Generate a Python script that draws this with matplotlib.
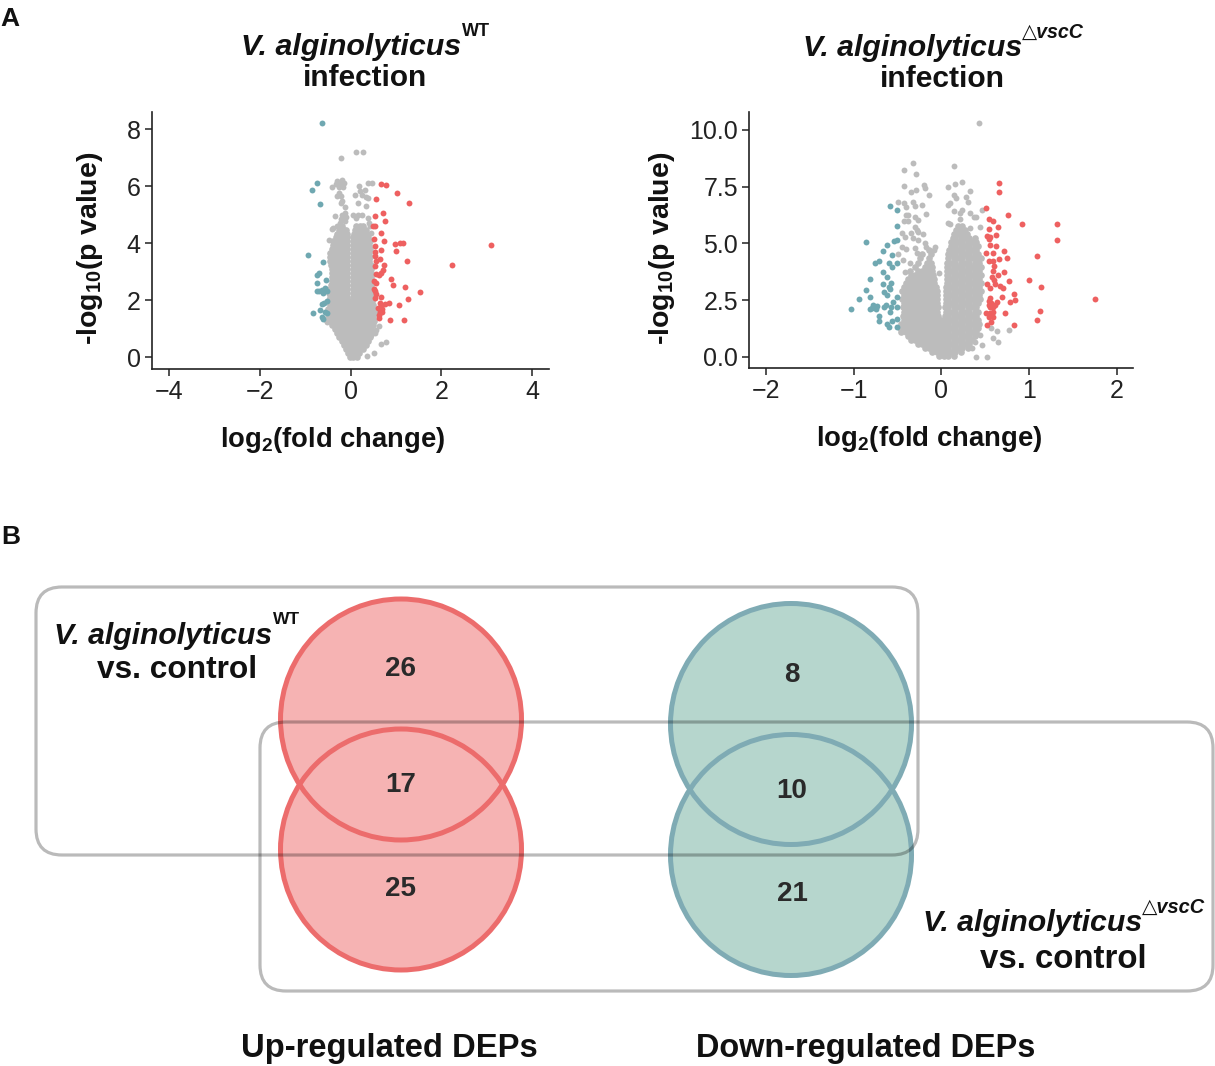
import matplotlib
matplotlib.use("Agg")
import matplotlib.pyplot as plt
from matplotlib.patches import Circle, FancyBboxPatch

plt.rcParams['font.family'] = ['Liberation Sans', 'DejaVu Sans']
plt.rcParams['mathtext.fontset'] = 'custom'
plt.rcParams['mathtext.rm'] = 'Liberation Sans'
plt.rcParams['mathtext.bf'] = 'Liberation Sans:bold'
plt.rcParams['axes.unicode_minus'] = True

W, H = 1215, 1066
GREY, TEAL, RED = '#bcbcbc', '#6fa8b1', '#ee6060'
INK = '#222222'

# --- panel A left ---
teal_a_x = [-.64,-.74,-.86,-.67,-.94,-.6,-.70,-.74,-.55,-.74,-.75,-.7,-.63,-.57,-.6,-.53,-.53,-.59,-.63,-.67,-.83,-.56,-.52,-.64,-.6]
teal_a_y = [8.22,6.11,5.85,5.37,3.59,3.34,2.95,2.89,2.72,2.6,2.33,2.32,2.37,2.42,2.27,2.31,1.98,1.92,1.87,1.67,1.55,1.59,1.55,1.43,1.35]
red_a_x = [.68,.77,1.03,.56,1.29,.71,.53,.75,.5,.54,.66,.52,.73,.98,1.1,1.15,.54,3.1,.67,.99,.54,.54,.65,.55,1.25,.74,.54,2.24,.71,.67,.55,.63,.88,.52,.56,.94,1.2,.51,.54,1.53,.56,.68,.54,1.26,.65,.76,.85,1.07,.68,.61,.69,.65,.7,.63,.63,.86,1.17]
red_a_y = [6.09,6.03,5.77,5.55,5.42,5.07,4.94,4.79,4.61,4.6,4.36,4.15,4.07,3.97,4.0,4.02,3.91,3.92,3.75,3.71,3.68,3.54,3.44,3.36,3.37,3.24,3.21,3.23,3.07,2.95,2.93,2.87,2.75,2.66,2.6,2.52,2.46,2.39,2.31,2.3,2.21,2.11,2.07,2.05,1.92,1.87,1.89,1.83,1.8,1.72,1.69,1.59,1.59,1.49,1.37,1.32,1.31]
grey_a_x = [.11,.27,-.22,.39,.48,-.31,-.18,-.14,-.32,-.4,-.22,-.26,-.16,.19,.21,.32,.1,.24,.33,.39,-.26,-.22,-.29,-.18,-.21,.17,.35,-.13,-.13,-.18,-.34,-.1,-.21,-.13,-.24,-.31,-.38,-.42,-.48,.06,.17,.26,.12,.38,.4,.43,.44,.63,.57,.54,.46,.66,.77,.52,.36,-.54,-.52]
grey_a_y = [7.2,7.21,6.97,6.12,6.12,6.19,6.22,6.11,6.09,5.97,6.09,5.97,5.97,6.0,5.82,5.88,5.7,5.7,5.62,5.58,5.76,5.64,5.64,5.47,5.41,5.4,5.32,5.26,5.06,5.0,4.94,4.92,4.85,4.77,4.7,4.61,4.53,4.5,4.12,5.0,5.0,4.98,4.88,4.88,4.7,4.59,4.36,1.08,.96,.84,.78,.47,.52,.16,.04,1.31,1.22]
# body of the cloud, row by row
body_a_y = [.02,.14,.28,.42,.56,.7,.84,.98,1.12,1.26,1.4,1.54,1.68,1.82,1.96,2.1,2.24,2.38,2.52,2.66,2.8,2.94,3.08,3.22,3.36,3.5,3.64,3.78,3.92,4.06,4.2,4.34,4.48,4.62]
body_a_x = [
    [-.02,.06,.13],
    [-.05,.03,.1,.18],
    [-.1,0,.1,.2,.28],
    [-.15,-.05,.05,.15,.25,.33],
    [-.2,-.1,0,.1,.2,.3,.38],
    [-.25,-.15,-.05,.05,.15,.25,.35,.42],
    [-.3,-.2,-.1,0,.1,.2,.3,.4,.45],
    [-.35,-.25,-.15,-.05,.05,.15,.25,.35,.45],
    [-.4,-.3,-.2,-.1,0,.1,.2,.3,.4,.5],
    [-.45,-.35,-.25,-.15,-.05,.05,.15,.25,.35,.45,.52],
    [-.5,-.4,-.3,-.2,-.1,0,.1,.2,.3,.4,.5],
    [-.45,-.35,-.25,-.15,-.05,.05,.15,.25,.35,.45,.53],
    [-.5,-.4,-.3,-.2,-.1,0,.1,.2,.3,.4,.5],
    [-.45,-.35,-.25,-.15,-.05,.05,.15,.25,.35,.45,.5],
    [-.5,-.4,-.3,-.2,-.1,0,.1,.2,.3,.4,.48],
    [-.45,-.35,-.25,-.15,-.08,.06,.15,.25,.35,.45],
    [-.48,-.4,-.3,-.2,-.13,-.08,.06,.12,.2,.3,.4,.47],
    [-.45,-.35,-.25,-.15,-.08,.06,.15,.25,.35,.45],
    [-.44,-.4,-.3,-.2,-.13,-.08,.06,.12,.2,.3,.4,.46],
    [-.42,-.35,-.25,-.15,-.08,.06,.15,.25,.35,.45],
    [-.4,-.3,-.2,-.13,-.08,.06,.12,.2,.3,.4,.46],
    [-.41,-.35,-.25,-.15,-.08,.06,.15,.25,.35,.45],
    [-.4,-.3,-.2,-.13,-.08,.06,.12,.2,.3,.4,.46],
    [-.43,-.35,-.25,-.15,-.08,.06,.15,.25,.35,.44],
    [-.45,-.4,-.3,-.2,-.13,-.08,.06,.12,.2,.3,.4],
    [-.46,-.4,-.3,-.2,-.13,-.08,.06,.15,.25,.35,.43],
    [-.45,-.35,-.25,-.15,-.08,.06,.12,.2,.3,.4],
    [-.4,-.3,-.2,-.13,-.08,.06,.15,.25,.35,.42],
    [-.38,-.35,-.25,-.15,-.08,.06,.12,.2,.3,.4],
    [-.38,-.3,-.2,-.13,-.08,.06,.15,.25,.35,.42],
    [-.33,-.25,-.15,-.08,.06,.12,.2,.3,.39],
    [-.29,-.2,-.13,-.08,.07,.15,.25,.35],
    [-.25,-.15,-.1,.09,.15,.25,.33],
    [-.2,.12,.2,.28],
]

# --- panel A right ---
teal_b_x = [-.58,-.51,-.51,-.86,-.51,-.54,-.62,-.67,-.56,-.71,-.76,-.6,-.51,-.56,-.67,-.62,-.81,-.57,-.67,-.6,-.58,-.86,-.65,-.62,-.81,-.51,-.94,-.55,-.78,-.73,-.63,-.65,-.51,-.57,-.79,-.81,-.74,-1.03,-.59,-.71,-.71,-.51,-.56,-.62,-.6,-.51]
teal_b_y = [6.67,6.46,5.79,5.07,5.15,5.11,4.93,4.68,4.49,4.23,4.16,4.13,4.16,3.98,3.74,3.54,3.44,3.27,3.2,3.1,2.98,2.97,2.88,2.73,2.66,2.63,2.54,2.41,2.29,2.25,2.29,2.19,2.19,2.19,2.14,2.1,2.1,2.1,2.0,1.81,1.6,1.66,1.6,1.45,1.34,1.31]
red_b_x = [.66,.66,.51,.76,.55,.59,.92,1.32,.65,.55,.62,.52,.56,.54,1.32,.56,.63,.72,.51,.59,1.09,.66,.75,.54,.59,.6,.59,.72,.65,.58,.6,1.0,.77,.52,.61,.67,1.14,.56,.7,.83,.69,1.75,.56,.84,.78,.54,.64,.57,.61,.54,.56,.59,.51,1.13,.73,.59,.56,.54,.59,1.09,.57,.52,.83]
red_b_y = [7.67,7.27,6.58,6.24,6.09,6.01,5.84,5.84,5.73,5.62,5.36,5.33,5.27,5.18,5.17,4.95,4.89,4.67,4.6,4.58,4.46,4.32,4.35,4.23,4.24,4.02,3.8,3.73,3.63,3.54,3.39,3.38,3.33,3.22,3.22,3.14,3.08,3.02,3.02,2.79,2.63,2.54,2.58,2.5,2.42,2.48,2.41,2.36,2.29,2.29,2.19,2.19,1.92,2.04,1.95,2.0,1.92,1.75,1.78,1.63,1.56,1.42,1.41]
grey_b_x = [.43,-.32,-.43,-.29,.15,-.43,-.2,-.19,-.29,-.34,-.14,.08,.16,.24,.33,.15,.17,.28,.3,.1,.08,-.32,-.49,-.43,-.4,-.3,-.22,.15,.24,.21,.33,.37,.46,.4,-.17,-.4,-.38,-.3,-.26,-.42,-.38,.1,.08,.21,.33,.44,-.3,-.28,-.26,-.34,-.21,-.45,-.41,-.32,-.26,-.19,-.17,-.07,-.08,-.45,-.4,-.3,-.28,-.49,-.44,-.36,-.41,-.03,.57,.64,.77,.59,.65,.47,.4,.52,.44,.38,.35]
grey_b_y = [10.31,8.55,8.25,8.06,8.41,7.52,7.59,7.43,7.36,7.28,7.14,7.49,7.64,7.72,7.31,7.14,6.99,7.05,6.81,6.77,6.7,6.83,6.81,6.77,6.62,6.65,6.71,6.45,6.48,6.33,6.36,6.18,6.48,6.18,6.3,6.26,6.26,6.18,6.04,6.01,6.01,5.86,5.89,6.06,5.7,5.73,5.74,5.6,5.49,5.45,5.4,5.45,5.27,5.23,5.15,5.0,4.86,4.83,4.71,4.86,4.76,4.79,4.57,4.54,4.27,4.13,3.76,3.71,1.26,1.16,1.19,.82,.68,.53,.01,.01,.97,.68,.38]
body_b_y = [.02,.2,.38,.56,.74,.92,1.1,1.28,1.46,1.64,1.82,2.0,2.18,2.36,2.54,2.72,2.9,3.08,3.26,3.44,3.62,3.8,3.98,4.16,4.34,4.52,4.7,4.88,5.06,5.24,5.42,5.6,5.78]
body_b_x = [
    [-.03,.03,.08,.14],
    [-.11,-.05,0,.05,.11,.16,.22],
    [-.19,-.14,-.08,-.03,.03,.08,.14,.19,.24,.3],
    [-.27,-.22,-.16,-.11,-.05,0,.05,.11,.16,.22,.27,.32],
    [-.35,-.3,-.24,-.19,-.14,-.08,-.03,.03,.08,.14,.19,.24,.3,.35],
    [-.38,-.32,-.27,-.22,-.16,-.11,-.05,0,.05,.11,.16,.22,.27,.32,.38],
    [-.46,-.4,-.35,-.3,-.24,-.19,-.14,-.08,-.03,.03,.08,.14,.19,.24,.3,.35,.4],
    [-.47,-.43,-.38,-.32,-.27,-.22,-.16,-.11,-.05,0,.05,.11,.16,.22,.27,.32,.38,.42],
    [-.46,-.4,-.35,-.3,-.24,-.19,-.14,-.08,-.03,.03,.08,.14,.19,.24,.3,.35,.4,.43],
    [-.43,-.38,-.32,-.27,-.22,-.16,-.11,-.05,0,.05,.11,.16,.22,.27,.32,.38,.42],
    [-.44,-.4,-.35,-.3,-.24,-.19,-.14,-.08,-.04,.04,.08,.14,.19,.24,.3,.35,.4],
    [-.43,-.38,-.32,-.27,-.22,-.16,-.11,-.05,.05,.11,.16,.22,.27,.32,.38,.42],
    [-.44,-.4,-.35,-.3,-.24,-.19,-.14,-.08,-.04,.04,.08,.14,.19,.24,.3,.35,.4],
    [-.43,-.38,-.32,-.27,-.22,-.16,-.11,-.05,.05,.11,.16,.22,.27,.32,.38,.42],
    [-.45,-.4,-.35,-.3,-.24,-.19,-.14,-.08,-.05,.05,.08,.14,.19,.24,.3,.35,.4,.44],
    [-.43,-.38,-.32,-.27,-.22,-.16,-.11,-.05,.05,.11,.16,.22,.27,.32,.38,.43],
    [-.45,-.4,-.35,-.3,-.24,-.19,-.14,-.08,-.05,.05,.08,.14,.19,.24,.3,.35,.4,.45],
    [-.43,-.38,-.32,-.27,-.22,-.16,-.11,-.06,.05,.11,.16,.22,.27,.32,.38,.43],
    [-.4,-.35,-.3,-.24,-.19,-.14,-.08,.06,.08,.14,.19,.24,.3,.35,.4,.45],
    [-.38,-.32,-.27,-.22,-.16,-.11,-.08,.06,.11,.16,.22,.27,.32,.38,.43],
    [-.35,-.3,-.24,-.19,-.14,-.09,.07,.08,.14,.19,.24,.3,.35,.4,.45],
    [-.36,-.27,-.22,-.16,-.11,.07,.11,.16,.22,.27,.32,.38,.43],
    [-.3,-.19,-.14,-.1,.07,.08,.14,.19,.24,.3,.35,.4,.45],
    [-.27,-.16,-.12,.07,.11,.16,.22,.27,.32,.38,.43],
    [-.24,-.14,.08,.14,.19,.24,.3,.35,.4,.45],
    [-.22,-.12,.08,.11,.16,.22,.27,.32,.38,.42],
    [-.14,.09,.14,.19,.24,.3,.35,.4],
    [.11,.16,.22,.27,.32,.38,.42],
    [.11,.14,.19,.24,.3,.35,.4],
    [.13,.16,.22,.27,.32,.38],
    [.15,.19,.24,.29],
    [.17,.22,.27],
    [.19,.24],
]

xticks_a = [-4, -2, 0, 2, 4]
yticks_a = [0, 2, 4, 6, 8]
xticks_b = [-2, -1, 0, 1, 2]
yticks_b = [0.0, 2.5, 5.0, 7.5, 10.0]
ytick_labels_b = ['0.0', '2.5', '5.0', '7.5', '10.0']

# --- panel B counts ---
up_counts = ['26', '17', '25']
down_counts = ['8', '10', '21']


def flatten_rows(ys, rows):
    xs_out, ys_out = [], []
    for y, row in zip(ys, rows):
        for x in row:
            xs_out.append(x)
            ys_out.append(y)
    return xs_out, ys_out


fig = plt.figure(figsize=(W / 100, H / 100), dpi=100)
bg = fig.add_axes([0, 0, 1, 1])
bg.set_xlim(0, W)
bg.set_ylim(H, 0)
bg.axis('off')


def fit_text(x0, x1, y, s, **kw):
    # size the string so it spans x0..x1, y is the vertical centre in pixels
    t = bg.text(x0, y, s, ha='left', va='center', color=kw.pop('color', '#111111'), fontsize=20, zorder=5, **kw)
    w = t.get_window_extent(fig.canvas.get_renderer()).width
    t.set_fontsize(20 * (x1 - x0) / w)
    return t


def volcano(left, right, top, bottom, xlim, ylim, grey, body, teal, red, xticks, yticks, ylabels=None):
    ax = fig.add_axes([left / W, 1 - bottom / H, (right - left) / W, (bottom - top) / H])
    ax.patch.set_alpha(0)
    bx, by = flatten_rows(body[0], body[1])
    ax.scatter(bx, by, s=23, c=GREY, linewidths=0, zorder=2)
    ax.scatter(grey[0], grey[1], s=18, c=GREY, linewidths=0, zorder=2)
    ax.scatter(teal[0], teal[1], s=18, c=TEAL, linewidths=0, zorder=3)
    ax.scatter(red[0], red[1], s=18, c=RED, linewidths=0, zorder=3)
    ax.set_xlim(*xlim)
    ax.set_ylim(*ylim)
    ax.set_xticks(xticks)
    ax.set_yticks(yticks)
    if ylabels:
        ax.set_yticklabels(ylabels)
    for side in ('top', 'right'):
        ax.spines[side].set_visible(False)
    for side in ('left', 'bottom'):
        ax.spines[side].set_linewidth(1.2)
        ax.spines[side].set_color(INK)
    ax.tick_params(length=5, width=1.1, color=INK, labelcolor=INK, labelsize=18, pad=3)
    return ax


volcano(151.7, 549, 112, 368.7, (-4.387, 4.375), (-0.4, 8.6),
        (grey_a_x, grey_a_y), (body_a_y, body_a_x), (teal_a_x, teal_a_y), (red_a_x, red_a_y),
        xticks_a, yticks_a)
volcano(749, 1133, 112, 368.3, (-2.193, 2.187), (-0.5, 10.79),
        (grey_b_x, grey_b_y), (body_b_y, body_b_x), (teal_b_x, teal_b_y), (red_b_x, red_b_y),
        xticks_b, yticks_b, ytick_labels_b)

# panel letters
bg.text(0, 19, 'A', fontsize=19, fontweight='bold', va='center', color='#111111')
bg.text(1, 537, 'B', fontsize=19, fontweight='bold', va='center', color='#111111')

# titles
fit_text(241, 461, 47, 'V. alginolyticus', fontweight='bold', style='italic')
fit_text(462, 490, 31, 'WT', fontweight='bold')
fit_text(303, 427, 78, 'infection', fontweight='bold')
fit_text(803, 1022, 48, 'V. alginolyticus', fontweight='bold', style='italic')
fit_text(1022, 1084, 32, '△vscC', fontweight='bold', style='italic')
fit_text(880, 1005, 79, 'infection', fontweight='bold')

# axis labels
fit_text(220, 445, 440, 'log$_{\\mathbf{2}}$(fold change)', fontweight='bold')
fit_text(816, 1042, 439, 'log$_{\\mathbf{2}}$(fold change)', fontweight='bold')
for x in (90, 662):
    bg.text(x, 248, '-log$_{\\mathbf{10}}$(p value)', rotation=90, fontsize=20.5, fontweight='bold',
            ha='center', va='center', color='#111111')

# Venn circles
circles = [(401, 719.5, '#ec6c6c', '#f6b3b3'), (401, 849.5, '#ec6c6c', '#f6b3b3'),
           (791, 724, '#7fabb4', '#b6d6cd'), (791, 855, '#7fabb4', '#b6d6cd')]
for cx, cy, edge, face in circles:
    bg.add_patch(Circle((cx, cy), 120.5, facecolor=face, edgecolor='none', zorder=1))
for cx, cy, edge, face in circles:
    bg.add_patch(Circle((cx, cy), 120.5, facecolor='none', edgecolor=edge, linewidth=3.6, zorder=2))

# group outlines, see-through so they darken over the circles
for x0, y0, x1, y1 in [(36, 587, 918, 855), (260, 722, 1213, 991)]:
    bg.add_patch(FancyBboxPatch((x0 + 26, y0 + 26), x1 - x0 - 52, y1 - y0 - 52,
                                boxstyle='round,pad=26,rounding_size=26', facecolor='none',
                                edgecolor='#000000', alpha=0.27, linewidth=2.3, zorder=3))

# Venn counts
count_y_up = [669, 785, 889]
count_y_down = [675, 791, 894]
for label, y in zip(up_counts, count_y_up):
    bg.text(401, y, label, fontsize=20, fontweight='bold', ha='center', va='center', color='#2a2a2a', zorder=4)
for label, y in zip(down_counts, count_y_down):
    bg.text(792, y, label, fontsize=20, fontweight='bold', ha='center', va='center', color='#2a2a2a', zorder=4)

# Venn group names
fit_text(54, 272, 636, 'V. alginolyticus', fontweight='bold', style='italic')
fit_text(273, 300, 620, 'WT', fontweight='bold')
fit_text(97, 257, 670, 'vs. control', fontweight='bold')
fit_text(923, 1142, 923, 'V. alginolyticus', fontweight='bold', style='italic')
fit_text(1142, 1205, 907, '△vscC', fontweight='bold', style='italic')
fit_text(980, 1147, 959, 'vs. control', fontweight='bold')

fit_text(241, 537, 1049, 'Up-regulated DEPs', fontweight='bold')
fit_text(696, 1036, 1049, 'Down-regulated DEPs', fontweight='bold')

fig.savefig('out.png', dpi=100)
